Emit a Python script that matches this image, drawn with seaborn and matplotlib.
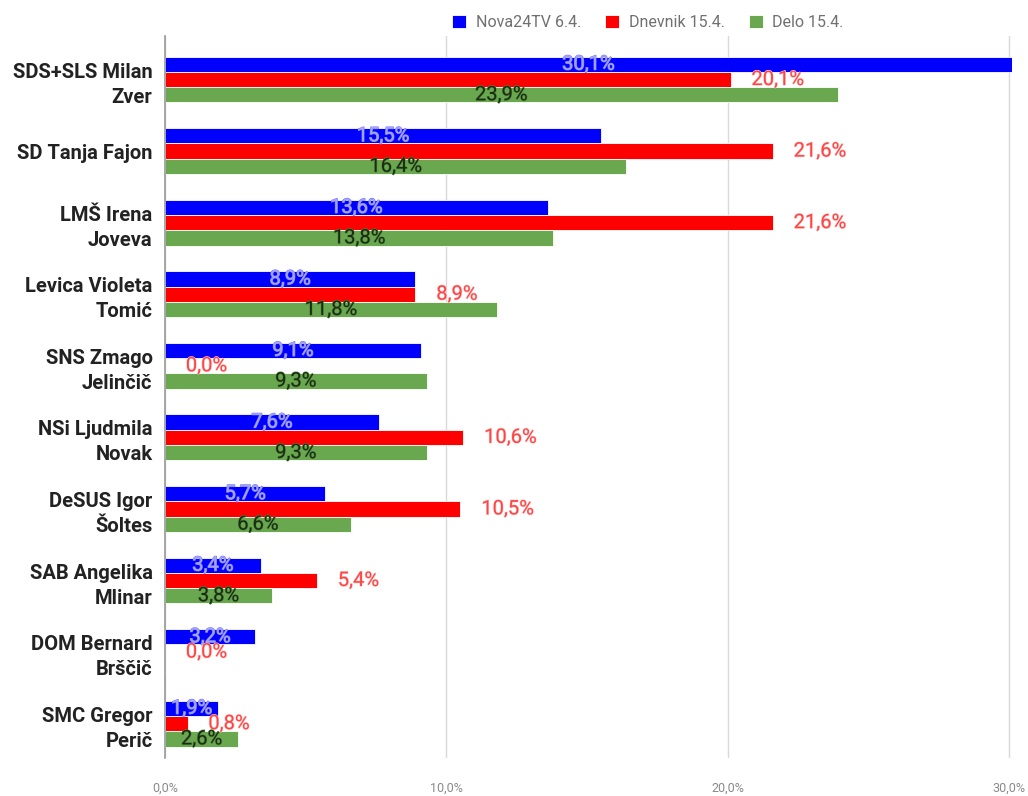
import pandas as pd
import numpy as np
import matplotlib.pyplot as plt
import matplotlib.patheffects as pe
import seaborn as sns

candidates = ["SDS+SLS Milan\nZver", "SD Tanja Fajon", "LMŠ Irena\nJoveva", "Levica Violeta\nTomić",
              "SNS Zmago\nJelinčič", "NSi Ljudmila\nNovak", "DeSUS Igor\nŠoltes", "SAB Angelika\nMlinar",
              "DOM Bernard\nBrščič", "SMC Gregor\nPerič"]
series = ["Nova24TV 6.4.", "Dnevnik 15.4.", "Delo 15.4."]
nova = [30.1, 15.5, 13.6, 8.9, 9.1, 7.6, 5.7, 3.4, 3.2, 1.9]
dnevnik = [20.1, 21.6, 21.6, 8.9, 0.0, 10.6, 10.5, 5.4, 0.0, 0.8]
delo = [23.9, 16.4, 13.8, 11.8, 9.3, 9.3, 6.6, 3.8, np.nan, 2.6]  # no Delo value for DOM
colors = ["#0000ff", "#ff0000", "#6aa84f"]

df = pd.DataFrame({"candidate": candidates * 3,
                   "series": [s for s in series for _ in candidates],
                   "value": np.nan_to_num(nova + dnevnik + delo)})

sns.set_style("white")
plt.rcParams['font.family'] = ['Roboto', 'DejaVu Sans']

fig = plt.figure(figsize=(10.28, 7.96), dpi=100)
ax = fig.add_axes([165 / 1028, 1 - 758 / 796, (1012 - 165) / 1028, (758 - 36) / 796])

sns.barplot(data=df, y="candidate", x="value", hue="series", orient="h", palette=colors,
            saturation=1, width=0.64, edgecolor="white", linewidth=0.6, ax=ax, legend=True,
            errorbar=None)

fmt = lambda v: f"{v:.1f}%".replace(".", ",")
# blue and green labels centered in the bar, red labels outside
vals = [nova, dnevnik, delo]
for cont, v, style in zip(ax.containers[:3], vals, ["blue", "red", "green"]):
    labels = ["" if np.isnan(x) else fmt(x) for x in v]
    if style == "blue":
        txt = ax.bar_label(cont, labels=labels, label_type="center", fontsize=14.5, color="#a4a4ff")
        for t in txt:
            t.set_path_effects([pe.withStroke(linewidth=0.8, foreground="#7a7aff")])
    elif style == "red":
        txt = ax.bar_label(cont, labels=labels, label_type="edge", padding=15, fontsize=14.5, color="#ff4444")
        for t in txt:
            t.set_path_effects([pe.withStroke(linewidth=0.8, foreground="#ffc8c8")])
    else:
        txt = ax.bar_label(cont, labels=labels, label_type="center", fontsize=14.5, color="#1c2a16")
        for t in txt:
            t.set_path_effects([pe.withStroke(linewidth=0.8, foreground="#4f8a3a")])
    for t in txt:
        t.set_va("center")

ax.set_xlim(0, 30.1)
ax.set_ylim(9.48, -0.608)
ax.set_xticks([0, 10, 20, 30])
ax.set_xticklabels(["0,0%", "10,0%", "20,0%", "30,0%"])
ax.xaxis.grid(True, color="#d9d9d9", linewidth=1)
ax.set_axisbelow(True)
ax.tick_params(axis="x", length=0, pad=17, labelsize=9, labelcolor="#8a8a8a")
ax.tick_params(axis="y", length=0, pad=9)
for lbl in ax.get_yticklabels():
    lbl.set_fontsize(14.5)
    lbl.set_fontweight("bold")
    lbl.set_color("#222222")
    lbl.set_linespacing(1.4)
ax.set_xlabel("")
ax.set_ylabel("")
for s in ["top", "right", "bottom"]:
    ax.spines[s].set_visible(False)
ax.spines["left"].set_color("#999999")
ax.spines["left"].set_linewidth(1.2)

handles, labels = ax.get_legend_handles_labels()
ax.legend_.remove()
fig.legend(handles, labels, loc="center", bbox_to_anchor=(0.63, 0.972), ncol=3, frameon=False,
           fontsize=11.5, labelcolor="#707070", handlelength=0.9, handleheight=0.9,
           columnspacing=1.5, handletextpad=0.6)

fig.savefig("out.png", dpi=100, facecolor="white")
